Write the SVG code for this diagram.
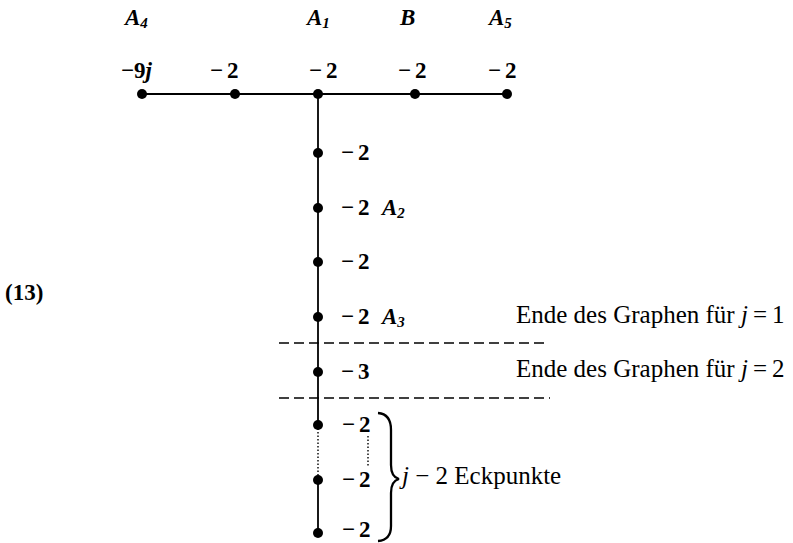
<svg xmlns="http://www.w3.org/2000/svg" width="793" height="543" viewBox="0 0 793 543">
<style>
.num{font-family:"Liberation Serif",serif;font-weight:bold;font-size:23px;fill:#000}
.lab{font-family:"Liberation Serif",serif;font-weight:bold;font-style:italic;font-size:23px;fill:#000}
.sub{font-size:15px}
.txt{font-family:"Liberation Serif",serif;font-size:25px;fill:#000}
.it{font-style:italic}
.edge{stroke:#000;stroke-width:1.8;fill:none}
.dot{stroke:#000;stroke-width:1.4;stroke-dasharray:1.5,2;fill:none}
.dash{stroke:#000;stroke-width:1.3;stroke-dasharray:10,5;fill:none}
.node{fill:#000}
</style>
<rect width="793" height="543" fill="#fff"/>
<text class="num" x="5" y="300">(13)</text>
<g id="connectors">
<line class="edge" x1="142" y1="94" x2="507" y2="94"/>
<line class="edge" x1="318" y1="94" x2="318" y2="425"/>
<line class="dot" x1="318" y1="425" x2="318" y2="480"/>
<line class="edge" x1="318" y1="480" x2="318" y2="533"/>
<line class="dot" x1="368" y1="436" x2="368" y2="466"/>
</g>
<g id="separators">
<line class="dash" x1="279" y1="343" x2="546" y2="343"/>
<line class="dash" x1="279" y1="398" x2="550" y2="398"/>
</g>
<g id="n1"><circle class="node" cx="142" cy="94" r="5"/><text class="lab" x="125" y="25">A<tspan class="sub" dy="3">4</tspan></text><text class="num" x="121" y="78">−9<tspan class="it">j</tspan></text></g>
<g id="n2"><circle class="node" cx="235" cy="94" r="5"/><text class="num" x="210" y="78">−<tspan dx="4">2</tspan></text></g>
<g id="n3"><circle class="node" cx="318" cy="94" r="5"/><text class="lab" x="307" y="25">A<tspan class="sub" dy="3">1</tspan></text><text class="num" x="309" y="78">−<tspan dx="4">2</tspan></text></g>
<g id="n4"><circle class="node" cx="415" cy="94" r="5"/><text class="lab" x="400" y="25">B</text><text class="num" x="398" y="78">−<tspan dx="4">2</tspan></text></g>
<g id="n5"><circle class="node" cx="507" cy="94" r="5"/><text class="lab" x="489" y="25">A<tspan class="sub" dy="3">5</tspan></text><text class="num" x="488" y="78">−<tspan dx="4">2</tspan></text></g>
<g id="v1"><circle class="node" cx="318" cy="153" r="5"/><text class="num" x="341" y="160">−<tspan dx="4">2</tspan></text></g>
<g id="v2"><circle class="node" cx="318" cy="208" r="5"/><text class="num" x="341" y="215">−<tspan dx="4">2</tspan></text><text class="lab" x="382" y="215">A<tspan class="sub" dy="3">2</tspan></text></g>
<g id="v3"><circle class="node" cx="318" cy="262" r="5"/><text class="num" x="341" y="269">−<tspan dx="4">2</tspan></text></g>
<g id="v4"><circle class="node" cx="318" cy="317" r="5"/><text class="num" x="341" y="324">−<tspan dx="4">2</tspan></text><text class="lab" x="382" y="324">A<tspan class="sub" dy="3">3</tspan></text></g>
<g id="v5"><circle class="node" cx="318" cy="372" r="5"/><text class="num" x="341" y="379">−<tspan dx="4">3</tspan></text></g>
<g id="v6"><circle class="node" cx="318" cy="425" r="5"/><text class="num" x="342" y="432">−<tspan dx="4">2</tspan></text></g>
<g id="v7"><circle class="node" cx="318" cy="480" r="5"/><text class="num" x="342" y="487">−<tspan dx="4">2</tspan></text></g>
<g id="v8"><circle class="node" cx="318" cy="533" r="5"/><text class="num" x="342" y="537">−<tspan dx="4">2</tspan></text></g>
<g id="notes">
<text class="txt" x="516" y="323">Ende des Graphen für <tspan class="it">j</tspan><tspan dx="5">=</tspan><tspan dx="5">1</tspan></text>
<text class="txt" x="516" y="377">Ende des Graphen für <tspan class="it">j</tspan><tspan dx="5">=</tspan><tspan dx="5">2</tspan></text>
<path d="M378,413 Q391,414 391,430 L391,465 Q391,477 399,479 Q391,481 391,493 L391,526 Q391,540 378,541" fill="none" stroke="#000" stroke-width="2.3"/>
<text class="txt" x="402" y="484"><tspan class="it">j</tspan> − 2 Eckpunkte</text>
</g>
</svg>
